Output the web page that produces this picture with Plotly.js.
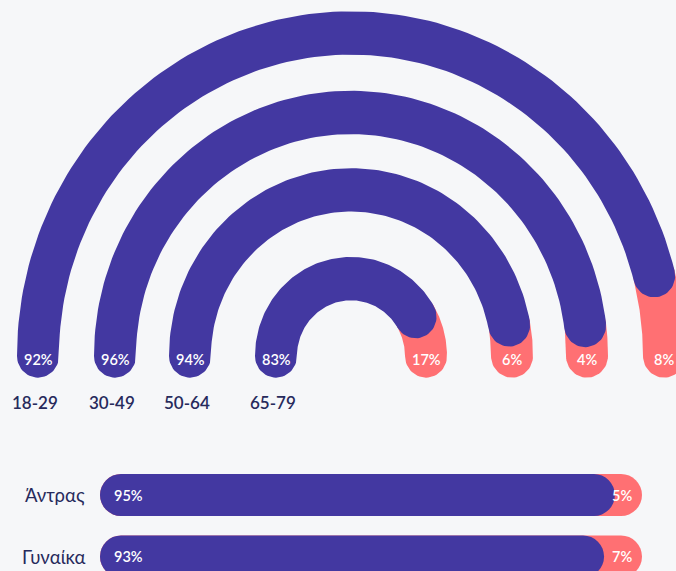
<!DOCTYPE html>
<html><head><meta charset="utf-8">
<script src="https://cdn.plot.ly/plotly-3.0.1.min.js"></script>
<style>html,body{margin:0;padding:0;background:#f6f7f9}</style>
</head><body><div id="chart" style="width:676px;height:571px"></div>
<script>
// ---- data ----
const ageGroups = ['18-29', '30-49', '50-64', '65-79'];
const ageYes = [92, 96, 94, 83];
const ageNo = [8, 4, 6, 17];
const genders = ['Άντρας', 'Γυναίκα'];
const genderYes = [95, 93];
const genderNo = [5, 7];

// ---- style / layout constants ----
const PURPLE = '#4338a1', CORAL = '#ff7073', INK = '#272a5c', BG = '#f6f7f9';
const W = 676, H = 571;
const CX = 351, CY = 356, STRETCH = 1.032, HALF = 21;
const RADII = [313, 236, 161, 75];
const FONT = 'Lato, "Noto Sans", sans-serif';

function toPx(x, y) { return [CX + x, CY - STRETCH * y]; }
function rad(d) { return d * Math.PI / 180; }

// thick arc with round caps, from angle a (deg) down to angle b (deg)
function arcPolygon(r, a, b) {
  const xs = [], ys = [];
  const push = (x, y) => { const p = toPx(x, y); xs.push(p[0]); ys.push(p[1]); };
  const N = 120, C = 30;
  const ta = rad(a), tb = rad(b);
  for (let i = 0; i <= N; i++) {
    const t = ta + (tb - ta) * i / N;
    push((r + HALF) * Math.cos(t), (r + HALF) * Math.sin(t));
  }
  {
    const nx = Math.cos(tb), ny = Math.sin(tb), tx = Math.sin(tb), ty = -Math.cos(tb);
    const px = r * nx, py = r * ny;
    for (let i = 0; i <= C; i++) {
      const f = Math.PI * i / C;
      push(px + HALF * (Math.cos(f) * nx + Math.sin(f) * tx), py + HALF * (Math.cos(f) * ny + Math.sin(f) * ty));
    }
  }
  for (let i = 0; i <= N; i++) {
    const t = tb + (ta - tb) * i / N;
    push((r - HALF) * Math.cos(t), (r - HALF) * Math.sin(t));
  }
  {
    const nx = Math.cos(ta), ny = Math.sin(ta), tx = Math.sin(ta), ty = -Math.cos(ta);
    const px = r * nx, py = r * ny;
    for (let i = 0; i <= C; i++) {
      const f = Math.PI * i / C;
      push(px + HALF * (-Math.cos(f) * nx - Math.sin(f) * tx), py + HALF * (-Math.cos(f) * ny - Math.sin(f) * ty));
    }
  }
  return { x: xs, y: ys };
}

const traces = [];
const annotations = [];
const pctFont = { family: FONT, size: 14.5, color: '#ffffff', weight: 600 };

ageGroups.forEach((g, i) => {
  const r = RADII[i];
  const total = ageYes[i] + ageNo[i];
  const split = 180 - 180 * ageYes[i] / total;
  const no = arcPolygon(r, split, 0);
  const yes = arcPolygon(r, 180, split);
  traces.push({ type: 'scatter', mode: 'lines', x: no.x, y: no.y, fill: 'toself',
    fillcolor: CORAL, line: { width: 0, color: CORAL }, hoverinfo: 'skip', xaxis: 'x', yaxis: 'y' });
  traces.push({ type: 'scatter', mode: 'lines', x: yes.x, y: yes.y, fill: 'toself',
    fillcolor: PURPLE, line: { width: 0, color: PURPLE }, hoverinfo: 'skip', xaxis: 'x', yaxis: 'y' });
  const left = toPx(-r, 0), right = toPx(r, 0);
  annotations.push({ xref: 'x', yref: 'y', x: left[0], y: left[1] + 3, text: ageYes[i] + '%', showarrow: false,
    font: pctFont, xanchor: 'center', yanchor: 'middle' });
  annotations.push({ xref: 'x', yref: 'y', x: right[0], y: right[1] + 3.5, text: ageNo[i] + '%', showarrow: false,
    font: pctFont, xanchor: 'center', yanchor: 'middle' });
  annotations.push({ xref: 'x', yref: 'y', x: left[0] - 3, y: 402, text: g, showarrow: false,
    font: { family: FONT, size: 17, color: INK, weight: 600 }, xanchor: 'center', yanchor: 'middle' });
});

const genderTotal = genders.map((g, i) => genderYes[i] + genderNo[i]);
traces.push({ type: 'bar', orientation: 'h', y: genders, x: genderTotal, base: 0, width: 0.683,
  marker: { color: CORAL, cornerradius: 21 }, hoverinfo: 'skip', xaxis: 'x2', yaxis: 'y2' });
traces.push({ type: 'bar', orientation: 'h', y: genders, x: genderYes, base: 0, width: 0.683,
  marker: { color: PURPLE, cornerradius: 21 }, hoverinfo: 'skip', xaxis: 'x2', yaxis: 'y2' });

genders.forEach((g, i) => {
  annotations.push({ xref: 'paper', yref: 'y2', x: 87 / W, y: i, text: g, showarrow: false,
    font: { family: FONT, size: 18.5, color: INK }, xanchor: 'right', yanchor: 'middle' });
  annotations.push({ xref: 'x2', yref: 'y2', x: 0, y: i, xshift: 12, text: genderYes[i] + '%', showarrow: false,
    font: pctFont, xanchor: 'left', yanchor: 'middle' });
  annotations.push({ xref: 'x2', yref: 'y2', x: genderTotal[i], y: i, xshift: -8, text: genderNo[i] + '%', showarrow: false,
    font: pctFont, xanchor: 'right', yanchor: 'middle' });
});

const layout = {
  width: W, height: H,
  margin: { l: 0, r: 0, t: 0, b: 0, pad: 0 },
  paper_bgcolor: BG, plot_bgcolor: 'rgba(0,0,0,0)',
  showlegend: false, hovermode: false, barmode: 'overlay',
  xaxis: { domain: [0, 1], range: [0, W], visible: false, fixedrange: true },
  yaxis: { domain: [0, 1], range: [H, 0], visible: false, fixedrange: true },
  xaxis2: { domain: [100 / W, 642 / W], range: [0, 100], visible: false, anchor: 'y2', fixedrange: true },
  yaxis2: { domain: [0, (H - 463) / H], range: [1.2358, -0.5203], type: 'category', visible: false, anchor: 'x2', fixedrange: true },
  annotations: annotations
};

Plotly.newPlot('chart', traces, layout, { displayModeBar: false, staticPlot: true });
</script>
</body></html>
